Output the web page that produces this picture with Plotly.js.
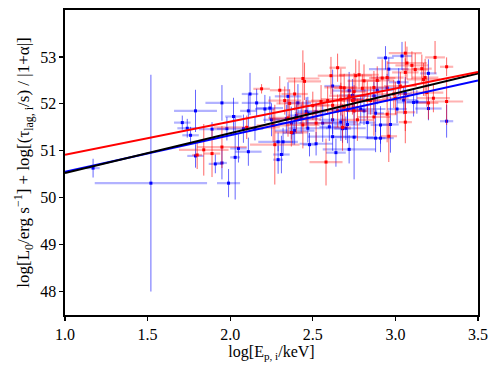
<!DOCTYPE html>
<html>
<head>
<meta charset="utf-8">
<script src="https://cdn.plot.ly/plotly-3.0.1.min.js"></script>
<style>html,body{margin:0;padding:0;background:#fff;}#chart{width:498px;height:374px;}</style>
</head>
<body>
<div id="chart"></div>
<script>
// Blue sample
const blueX = [1.17,1.52,1.71,1.74,1.76,1.79,1.79,1.91,1.89,1.95,1.95,1.98,1.99,2.02,2.03,2.05,2.08,2.11,2.11,2.12,2.16,2.15,2.21,2.24,2.25,2.29,2.29,2.31,2.32,2.34,2.35,2.37,2.38,2.39,2.40,2.41,2.43,2.46,2.47,2.48,2.47,2.52,2.56,2.60,2.62,2.62,2.64,2.67,2.68,2.70,2.71,2.72,2.72,2.74,2.75,2.75,2.79,2.83,2.87,2.88,2.88,2.91,2.91,2.94,2.95,2.96,2.97,3.01,3.02,3.04,3.05,3.06,3.11,3.13,3.20,3.20,3.31,2.52,2.62,2.71,2.89,2.81];
const blueY = [50.63,50.31,51.60,51.48,51.33,51.85,50.89,50.72,51.46,52.02,50.74,51.47,50.31,51.73,50.86,51.05,51.47,50.98,51.85,52.21,52.02,51.47,51.89,51.91,51.66,51.19,50.81,50.92,51.19,51.68,52.16,51.59,51.38,51.43,51.75,52.02,51.69,51.84,51.80,51.13,51.48,51.83,51.59,51.51,51.30,52.38,50.96,51.61,51.47,51.48,51.56,52.28,51.03,52.18,51.29,52.10,51.89,51.60,52.17,51.80,51.27,51.27,51.55,52.98,52.34,52.74,51.56,51.89,52.46,53.02,52.08,52.22,52.03,52.04,52.65,51.90,51.63,51.15,51.66,51.87,52.29,51.85];
const blueXerr = [0.04,0.34,0.05,0.06,0.05,0.13,0.05,0.04,0.08,0.10,0.03,0.06,0.07,0.05,0.03,0.05,0.04,0.08,0.05,0.05,0.09,0.05,0.06,0.08,0.05,0.12,0.03,0.05,0.06,0.10,0.08,0.08,0.06,0.12,0.05,0.08,0.10,0.05,0.08,0.04,0.12,0.06,0.10,0.06,0.15,0.05,0.06,0.10,0.05,0.12,0.08,0.10,0.16,0.08,0.12,0.06,0.15,0.05,0.10,0.05,0.06,0.08,0.06,0.05,0.08,0.12,0.05,0.06,0.06,0.06,0.08,0.04,0.10,0.06,0.05,0.08,0.04,0.10,0.08,0.10,0.10,0.08];
const blueYerr = [0.20,2.31,0.15,0.20,0.18,0.45,0.25,0.20,0.15,0.38,0.35,0.25,0.30,0.40,0.90,0.30,0.30,0.30,0.35,0.45,0.30,0.25,0.30,0.25,0.35,0.20,0.30,0.40,0.30,0.30,0.30,0.35,0.25,0.30,0.30,0.40,0.30,0.30,0.35,0.25,0.30,0.20,0.40,0.30,0.30,0.35,0.30,0.40,0.30,0.25,0.40,0.40,0.30,0.35,0.90,0.30,0.30,0.35,0.30,0.40,0.30,0.30,0.40,0.25,0.30,0.25,0.60,0.30,0.30,0.30,0.30,0.35,0.30,0.25,0.30,0.25,0.35,0.25,0.30,0.30,0.30,0.30];

// Red sample
const redX = [1.80,1.84,1.89,1.95,2.10,2.19,2.27,2.30,2.33,2.35,2.36,2.37,2.39,2.40,2.44,2.45,2.44,2.46,2.52,2.58,2.61,2.59,2.62,2.65,2.67,2.67,2.69,2.69,2.68,2.72,2.74,2.75,2.76,2.78,2.77,2.80,2.81,2.83,2.85,2.87,2.89,2.92,2.95,2.95,2.96,2.99,3.00,3.03,3.06,3.07,3.06,3.06,3.06,3.10,3.12,3.16,3.17,3.18,3.19,3.20,3.24,3.23,3.31,3.31,2.75,2.50,2.26,2.55,2.87,2.65];
const redY = [50.91,51.02,50.94,51.08,51.50,52.32,51.13,52.29,52.07,51.70,52.01,51.39,52.21,51.67,52.54,52.48,51.55,51.78,51.59,50.76,52.60,52.07,51.97,52.77,52.35,52.10,51.93,52.34,51.50,52.17,52.07,52.26,52.60,52.62,51.66,52.33,52.49,52.08,52.07,52.35,52.50,52.55,52.56,51.78,51.31,52.21,52.12,52.38,53.08,52.87,52.67,51.82,51.61,52.82,52.73,52.75,52.52,52.56,52.24,52.02,52.99,52.12,52.79,52.05,51.85,51.96,51.54,52.05,51.72,51.85];
const redXerr = [0.03,0.15,0.05,0.15,0.20,0.05,0.15,0.06,0.10,0.12,0.08,0.10,0.08,0.15,0.10,0.10,0.10,0.06,0.10,0.10,0.08,0.10,0.12,0.05,0.10,0.12,0.08,0.06,0.05,0.12,0.10,0.08,0.10,0.12,0.10,0.08,0.10,0.12,0.10,0.08,0.10,0.08,0.10,0.06,0.05,0.10,0.08,0.10,0.10,0.12,0.08,0.06,0.04,0.10,0.08,0.06,0.10,0.08,0.10,0.06,0.06,0.10,0.04,0.10,0.08,0.10,0.10,0.08,0.10,0.15];
const redYerr = [0.30,0.55,0.50,0.45,0.25,0.10,0.85,0.30,0.30,0.40,0.30,0.30,0.35,0.30,0.60,0.40,0.50,0.30,0.40,0.50,0.40,0.30,0.35,0.30,0.40,0.35,0.45,0.30,0.50,0.35,0.30,0.40,0.35,0.30,0.45,0.30,0.35,0.40,0.30,0.35,0.30,0.40,0.35,0.60,0.55,0.30,0.35,0.30,0.25,0.35,0.30,0.40,0.45,0.30,0.35,0.30,0.35,0.40,0.30,0.35,0.35,0.30,0.20,0.50,0.30,0.30,0.35,0.35,0.40,0.35];

// Best-fit lines (endpoints)
const lineX = [1.0, 3.5];
const redFit = [50.915, 52.68];
const blueFit = [50.55, 52.50];
const allFit = [50.525, 52.65];

const xTicks = [1.0, 1.5, 2.0, 2.5, 3.0, 3.5];
const yTicks = [48, 49, 50, 51, 52, 53];

function pts(x, y, xe, ye, rgb) {
  return {
    x: x, y: y, type: 'scatter', mode: 'markers',
    marker: {symbol: 'square', size: 3, color: 'rgb(' + rgb + ')'},
    error_x: {type: 'data', array: xe, visible: true, color: 'rgba(' + rgb + ',0.3)', thickness: 2.2, width: 0},
    error_y: {type: 'data', array: ye, visible: true, color: 'rgba(' + rgb + ',0.6)', thickness: 1, width: 0},
    showlegend: false, hoverinfo: 'skip'
  };
}
function fit(y, color) {
  return {x: lineX, y: y, type: 'scatter', mode: 'lines', line: {color: color, width: 2}, showlegend: false, hoverinfo: 'skip'};
}

const data = [
  pts(blueX, blueY, blueXerr, blueYerr, '0,0,255'),
  pts(redX, redY, redXerr, redYerr, '255,0,0'),
  fit(blueFit, '#0000ff'),
  fit(allFit, '#000000'),
  fit(redFit, '#ff0000')
];

const fam = '"Liberation Serif", "DejaVu Serif", serif';
const font = {family: fam, size: 16, color: '#000'};
const layout = {
  width: 498, height: 374,
  margin: {l: 65, r: 20, t: 10, b: 59},
  paper_bgcolor: '#fff', plot_bgcolor: '#fff',
  font: font,
  showlegend: false,
  xaxis: {
    range: [1.0, 3.5], tickvals: xTicks, ticktext: xTicks.map(v => v.toFixed(1)),
    ticks: 'outside', ticklen: 4, tickwidth: 1.2, tickcolor: '#000',
    showline: true, mirror: true, linecolor: '#000', linewidth: 1.6,
    showgrid: false, zeroline: false, tickfont: {family: fam, size: 16, color: '#000'},
    title: {text: 'log[E<sub>p, i</sub>/keV]', font: {family: fam, size: 16, color: '#000'}, standoff: 3}
  },
  yaxis: {
    range: [47.5, 54.0], tickvals: yTicks, ticktext: yTicks.map(String),
    ticks: 'outside', ticklen: 4, tickwidth: 1.2, tickcolor: '#000',
    showline: true, mirror: true, linecolor: '#000', linewidth: 1.6,
    showgrid: false, zeroline: false, tickfont: {family: fam, size: 16, color: '#000'},
    title: {text: 'log[L<sub>0</sub>/erg s<sup>−1</sup>] + log[(τ<sub>lag, i</sub>/s) / |1+α|]', font: {family: fam, size: 17, color: '#000'}, standoff: 6}
  }
};
Plotly.newPlot('chart', data, layout, {displayModeBar: false, staticPlot: true});
</script>
</body>
</html>
